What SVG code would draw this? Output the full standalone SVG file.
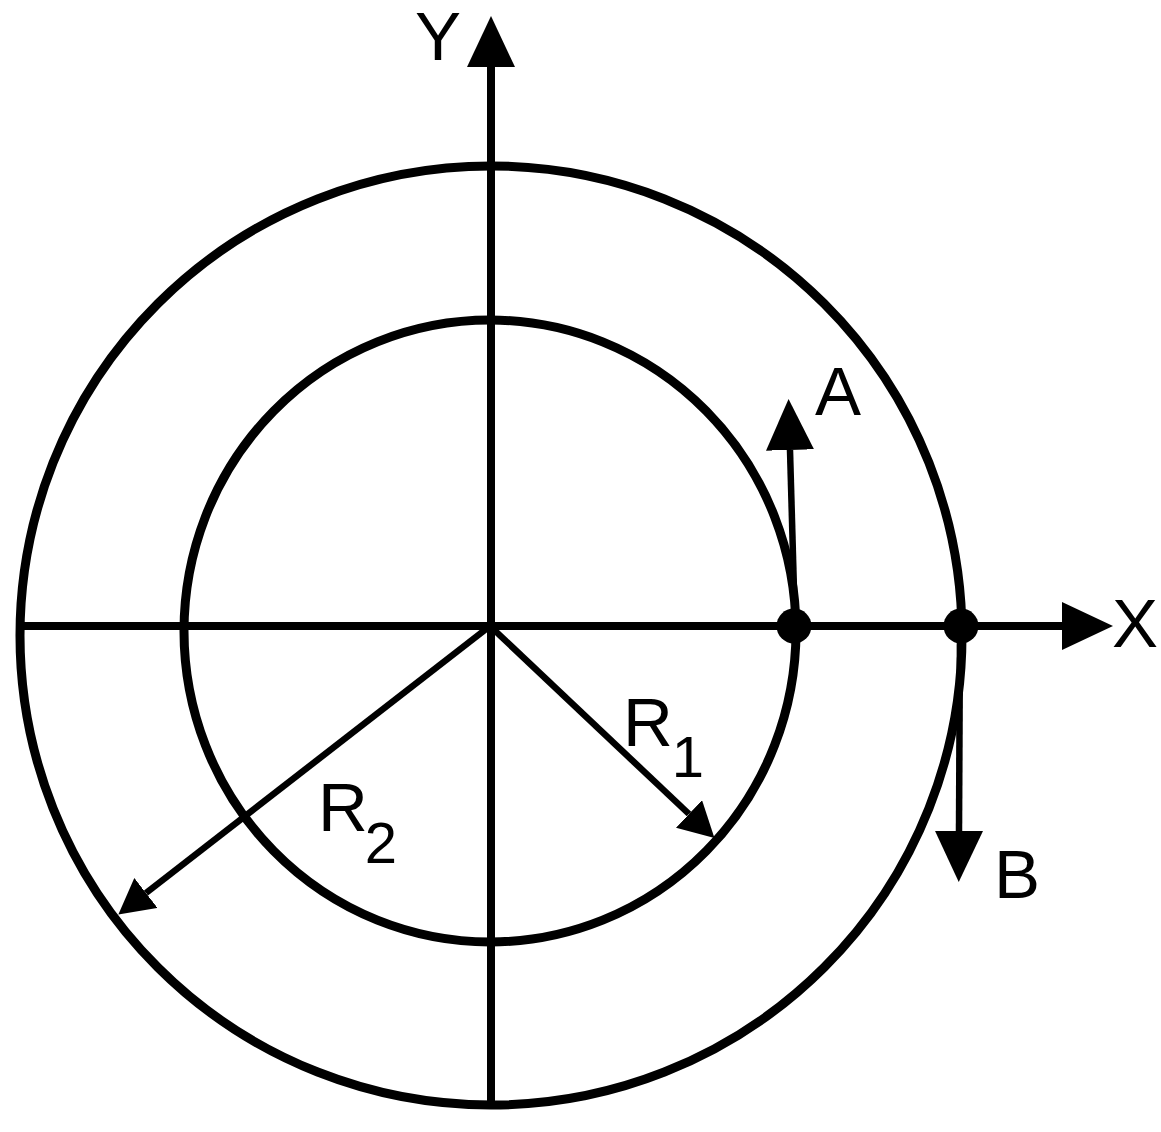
<svg xmlns="http://www.w3.org/2000/svg" width="1161" height="1132" viewBox="0 0 1161 1132">
<style>
.ring{fill:none;stroke:#000;stroke-width:9}
.axis{stroke:#000;stroke-width:8;fill:none}
.vec{stroke:#000;stroke-width:6.5;fill:none}
.lbl{font-family:"Liberation Sans",Arial,sans-serif;font-size:69px;fill:#000;text-anchor:middle}
.sub{font-family:"Liberation Sans",Arial,sans-serif;font-size:58px;fill:#000;text-anchor:middle}
.dot{fill:#000}
</style>
<defs>
<marker id="big" markerUnits="userSpaceOnUse" viewBox="0 0 51 48" markerWidth="51" markerHeight="48" refX="0" refY="24" orient="auto">
<path d="M0 0 L51 24 L0 48 Z" fill="#000"/>
</marker>
<marker id="small" markerUnits="userSpaceOnUse" viewBox="0 0 35 38" markerWidth="35" markerHeight="38" refX="0" refY="19" orient="auto">
<path d="M0 0 L35 19 L0 38 Z" fill="#000"/>
</marker>
</defs>
<rect width="1161" height="1132" fill="#fff"/>
<g id="outer-circle"><ellipse class="ring" cx="491" cy="635.5" rx="471" ry="469.5"/></g>
<g id="inner-circle"><ellipse class="ring" cx="490" cy="631" rx="306" ry="311"/></g>
<g id="connectors">
<line id="y-axis" class="axis" x1="491" y1="1103" x2="491" y2="67" marker-end="url(#big)"/>
<line id="x-axis" class="axis" x1="22" y1="626" x2="1062" y2="626" marker-end="url(#big)"/>
<line id="vec-A" class="vec" x1="795" y1="626" x2="790" y2="450" marker-end="url(#big)"/>
<line id="vec-B" class="vec" x1="960" y1="626" x2="959" y2="831" marker-end="url(#big)"/>
<line id="vec-R1" class="vec" x1="490" y1="626" x2="689" y2="814" marker-end="url(#small)"/>
<line id="vec-R2" class="vec" x1="490" y1="626" x2="146" y2="893" marker-end="url(#small)"/>
</g>
<g id="point-A"><circle class="dot" cx="794" cy="626" r="17.5"/></g>
<g id="point-B"><circle class="dot" cx="961" cy="626" r="17.5"/></g>
<g id="labels">
<text class="lbl" x="438" y="60" font-size="64">Y</text>
<text class="lbl" x="1135" y="647">X</text>
<text class="lbl" x="838" y="415">A</text>
<text class="lbl" x="1017" y="898">B</text>
<text class="lbl" x="648" y="746">R</text>
<text class="sub" x="688" y="777">1</text>
<text class="lbl" x="343" y="831">R</text>
<text class="sub" x="381" y="863">2</text>
</g>
</svg>
